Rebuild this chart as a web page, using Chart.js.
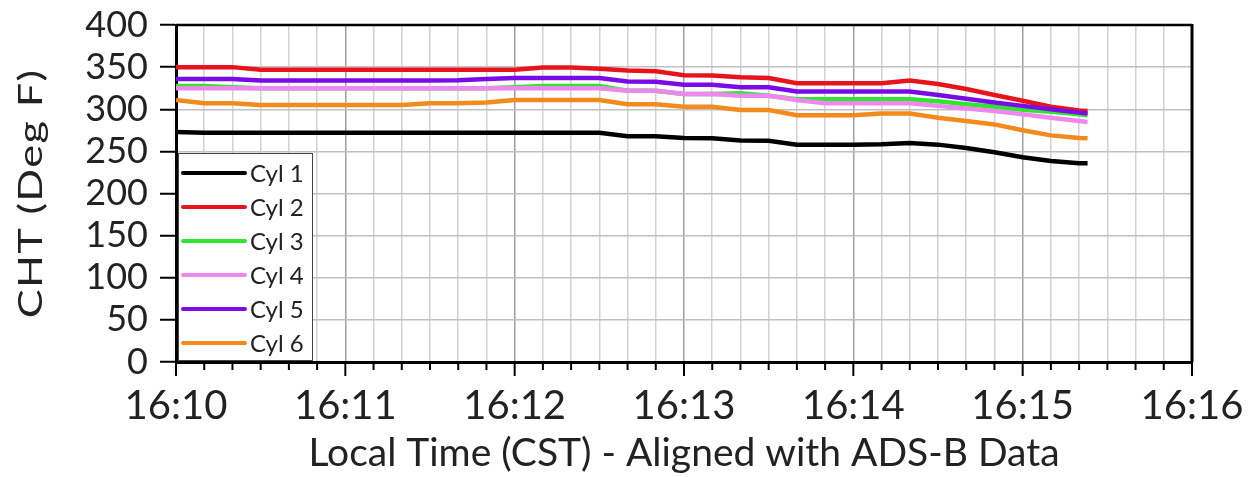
<!DOCTYPE html>
<html><head><meta charset="utf-8">
<script src="https://cdn.jsdelivr.net/npm/chart.js@4.4.1/dist/chart.umd.min.js"></script>
<style>html,body{margin:0;padding:0;background:#fff;} #wrap{width:1254px;height:477px;}</style>
</head><body><div id="wrap"><canvas id="c" width="1254" height="477"></canvas></div>
<script>
// Time in seconds after 16:10:00
const seconds = [0,10,20,30,40,50,60,70,80,90,100,110,120,130,140,150,160,170,180,190,200,210,220,230,240,250,260,270,280,290,300,310,320,323];
const cyl1 = [273,272,272,272,272,272,272,272,272,272,272,272,272,272,272,272,268,268,266,265.5,263,262.5,258,258,258,258.5,260,258,254,249,243,238.5,236,236];
const cyl2 = [350,350,350,347,347,347,347,347,347,347,347,347,347,349.5,349.5,348,346,345,340.5,340,338,337,331,331,331,331,334,330,324,317,310,303,298.5,298];
const cyl3 = [327.5,327.5,326,325,325,325,325,325,325,325,325,325,326,327.5,327.5,327.5,322,322,318,318,319,316,312,312,312,312,312,309.5,306,303,299.5,297,294,293];
const cyl4 = [325,325,325,325,325,325,325,325,325,325,325,325,325,325,325,325,322,322,318,318,316,316,311,307,307,307,307,304,301,298,294,290,286,285];
const cyl5 = [336,336,336,334,334,334,334,334,334,334,334.5,336,337,337,337,337,333,332.5,329,329,326,326,321,321,321,321,321,317,312.5,308,304,300,296,295];
const cyl6 = [311,307,307,305,305,305,305,305,305,307,307,308,311,311,311,311,306,306,303,303,299,299,293,293,293,295,295,290,286,282,275,269,266,265.5];
const seriesNames = ['Cyl 1','Cyl 2','Cyl 3','Cyl 4','Cyl 5','Cyl 6'];
const seriesColors = ['#000000','#e8141c','#2ee62e','#ee88ee','#7a0ae6','#f28a1c'];
const xTickLabels = ['16:10','16:11','16:12','16:13','16:14','16:15','16:16'];
const xTitle = 'Local Time (CST) - Aligned with ADS-B Data';
const yTitle = 'CHT (Deg F)';
const yMin = 0, yMax = 400, yStep = 50;
const xMin = 0, xMax = 360, xStep = 10;

const allSeries = [cyl1,cyl2,cyl3,cyl4,cyl5,cyl6];
const datasets = allSeries.map((vals,i)=>({
  label: seriesNames[i],
  data: vals.map((v,j)=>({x:seconds[j], y:v})),
  borderColor: seriesColors[i],
  backgroundColor: seriesColors[i],
  borderWidth: 4.5,
  pointRadius: 0,
  tension: 0,
  order: -i
}));

const FONT = 'Lato, "Open Sans", sans-serif';

const framePlugin = {
  id: 'frame',
  afterDraw(chart){
    const ctx = chart.ctx, ca = chart.chartArea, xs = chart.scales.x;
    ctx.save();
    ctx.strokeStyle = '#000';
    ctx.lineWidth = 2;
    xs.ticks.forEach(t=>{
      const px = xs.getPixelForValue(t.value);
      const len = (t.value % 60 === 0) ? 14 : 8;
      ctx.beginPath(); ctx.moveTo(px, ca.bottom); ctx.lineTo(px, ca.bottom+len); ctx.stroke();
    });
    ctx.lineWidth = 2.5;
    ctx.beginPath(); ctx.moveTo(ca.left, ca.top); ctx.lineTo(ca.right, ca.top); ctx.stroke();
    ctx.lineWidth = 3;
    ctx.beginPath(); ctx.moveTo(ca.right, ca.top-1); ctx.lineTo(ca.right, ca.bottom); ctx.stroke();
    // y axis title (wide lettering as in the reference)
    ctx.save();
    ctx.translate(32, (ca.top + ca.bottom)/2);
    ctx.rotate(-Math.PI/2);
    ctx.scale(1.35, 1);
    ctx.font = '32px ' + FONT;
    ctx.letterSpacing = '1px';
    ctx.fillStyle = '#222';
    ctx.textAlign = 'center'; ctx.textBaseline = 'middle';
    ctx.fillText(yTitle, 0, 0);
    ctx.restore();
    // legend box
    const bx = ca.left + 2, bw = 134, bh = 207, by = ca.bottom - 2 - bh;
    ctx.fillStyle = '#fff';
    ctx.fillRect(bx, by, bw, bh);
    ctx.strokeStyle = '#444'; ctx.lineWidth = 1;
    ctx.strokeRect(bx+0.5, by+0.5, bw, bh);
    ctx.font = '24px ' + FONT;
    ctx.textBaseline = 'middle';
    chart.data.datasets.forEach((ds,i)=>{
      const cy = by + 20 + i*34;
      ctx.strokeStyle = ds.borderColor; ctx.lineWidth = 4; ctx.lineCap = 'round';
      ctx.beginPath(); ctx.moveTo(bx+5, cy); ctx.lineTo(bx+67, cy); ctx.stroke();
      ctx.fillStyle = '#222';
      ctx.fillText(ds.label, bx+72, cy+1);
    });
    ctx.restore();
  }
};

new Chart(document.getElementById('c'), {
  type: 'line',
  data: { datasets },
  options: {
    responsive: false, animation: false, devicePixelRatio: 1,
    layout: { padding: { top: 25, right: 62, left: 0, bottom: 0 } },
    plugins: { legend: { display: false }, tooltip: { enabled: false } },
    scales: {
      x: {
        type: 'linear', min: xMin, max: xMax,
        afterFit(s){ s.height = 115; },
        ticks: {
          stepSize: xStep, autoSkip: false, maxRotation: 0, padding: 6,
          callback: (v)=> (v % 60 === 0) ? xTickLabels[v/60] : '',
          font: { family: FONT, size: 40 }, color: '#222'
        },
        grid: {
          color: (c)=> (c.tick && c.tick.value % 60 === 0) ? '#a0a0a0' : '#d2d2d2',
          lineWidth: 1.5, tickColor: 'rgba(0,0,0,0)', tickLength: 14
        },
        border: { display: true, color: '#000', width: 3 },
        title: { display: true, text: xTitle, font: { family: FONT, size: 39 }, color: '#222', padding: { top: 0, bottom: 0 } }
      },
      y: {
        min: yMin, max: yMax,
        afterFit(s){ s.width = 176; },
        ticks: { stepSize: yStep, autoSkip: false, padding: 12, font: { family: FONT, size: 36, lineHeight: 0.6 }, color: '#222' },
        grid: { color: '#c0c0c0', lineWidth: 1.5, tickColor: '#000', tickLength: 16, tickWidth: 2 },
        border: { display: true, color: '#000', width: 3 },
        title: { display: false }
      }
    }
  },
  plugins: [framePlugin]
});
</script>
</body></html>
